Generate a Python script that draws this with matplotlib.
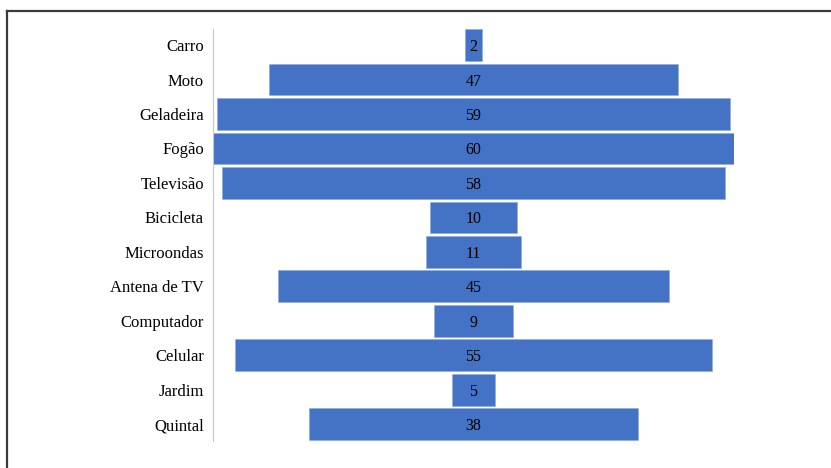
import matplotlib
matplotlib.use("Agg")
import matplotlib.pyplot as plt
from matplotlib.lines import Line2D

categories = ["Carro", "Moto", "Geladeira", "Fogão", "Televisão", "Bicicleta",
              "Microondas", "Antena de TV", "Computador", "Celular", "Jardim", "Quintal"]
values = [2, 47, 59, 60, 58, 10, 11, 45, 9, 55, 5, 38]

W, H = 831, 468
fig = plt.figure(figsize=(W / 100, H / 100), dpi=100)
plt.rcParams['font.family'] = ['Liberation Serif', 'DejaVu Serif']

ax = fig.add_axes([213 / W, 1 - 441.4 / H, (734 - 213) / W, (441.4 - 27.8) / H])
ypos = list(range(len(categories)))
lefts = [-v / 2 for v in values]
ax.barh(ypos, values, left=lefts, height=0.92, color="#4472C4", edgecolor="#8FAADC", linewidth=0.4)
for y, v in zip(ypos, values):
    ax.text(0, y, str(v), ha="center", va="center_baseline", fontsize=11.5, color="#000000")

ax.set_xlim(-30, 30)
ax.set_ylim(len(categories) - 0.5, -0.5)
ax.set_yticks(ypos)
ax.set_yticklabels(categories, fontsize=12)
ax.tick_params(axis="y", length=0, pad=6.5)
ax.set_xticks([])
for s in ["top", "right", "bottom"]:
    ax.spines[s].set_visible(False)
ax.spines["left"].set_color("#C8C8C8")
ax.spines["left"].set_linestyle((0, (1, 1)))
ax.spines["left"].set_linewidth(0.8)

# outer border (left and top only visible)
fig.add_artist(Line2D([6.5 / W, 6.5 / W], [0, 1 - 10.5 / H], transform=fig.transFigure,
                      color="#3A3A3A", linewidth=1.6))
fig.add_artist(Line2D([6.5 / W, 1], [1 - 10.5 / H, 1 - 10.5 / H], transform=fig.transFigure,
                      color="#3A3A3A", linewidth=1.6))

fig.savefig("out.png", dpi=100)
